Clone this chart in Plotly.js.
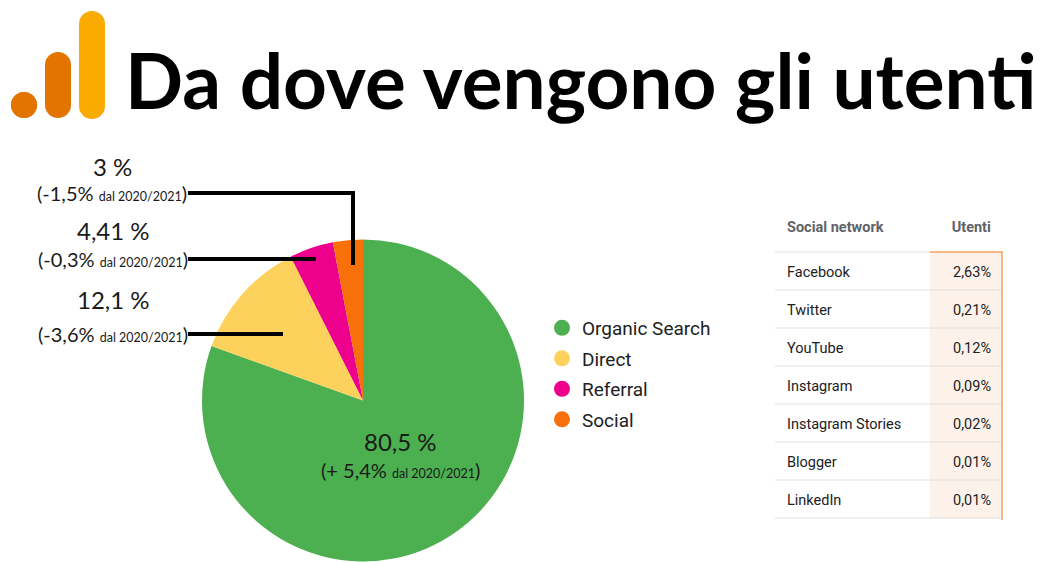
<!DOCTYPE html>
<html>
<head>
<meta charset="utf-8">
<script src="https://cdn.plot.ly/plotly-3.0.1.min.js"></script>
<style>html,body{margin:0;padding:0;background:#fff}#chart{width:1051px;height:562px}</style>
</head>
<body>
<div id="chart"></div>
<script>
// ---- data ----
const channels = ["Organic Search", "Direct", "Referral", "Social"];
const shares = [80.5, 12.1, 4.41, 3];
const shareLabels = ["80,5 %", "12,1 %", "4,41 %", "3 %"];
const deltaLabels = ["+ 5,4%", "-3,6%", "-0,3%", "-1,5%"];
const compareLabel = "dal 2020/2021";
const channelColors = ["#4caf50", "#fdd25c", "#ec008c", "#f7700a"];
const socialNetworks = ["Facebook", "Twitter", "YouTube", "Instagram", "Instagram Stories", "Blogger", "LinkedIn"];
const socialUsers = ["2,63%", "0,21%", "0,12%", "0,09%", "0,02%", "0,01%", "0,01%"];
const tableHeaders = ["Social network", "Utenti"];
const titleText = "Da dove vengono gli utenti";

// ---- helpers (pixel -> paper) ----
const W = 1051, H = 562;
const px = x => x / W;
const py = y => 1 - y / H;

const traces = [];
traces.push({
  type: "pie",
  values: shares,
  labels: channels,
  marker: {colors: channelColors, line: {width: 0}},
  sort: false,
  direction: "clockwise",
  rotation: 0,
  textinfo: "none",
  hoverinfo: "label+percent",
  showlegend: false,
  domain: {x: [px(202), px(524)], y: [py(562), py(239)]}
});
channels.forEach((c, i) => {
  traces.push({
    type: "scatter", mode: "markers", x: [null], y: [null],
    name: c, legendgroup: "g" + i,
    marker: {color: channelColors[i], size: 18, symbol: "circle"},
    hoverinfo: "skip"
  });
});
traces.push({
  type: "table",
  domain: {x: [px(779), px(1000)], y: [0, py(211)]},
  columnwidth: [151, 70],
  header: {
    values: tableHeaders.map(h => "<b>" + h + "</b>"),
    align: ["left", "right"],
    height: 47,
    fill: {color: "rgba(0,0,0,0)"},
    line: {color: "rgba(0,0,0,0)", width: 0},
    font: {family: "Roboto", size: 14.5, color: "#5f6368"}
  },
  cells: {
    values: [socialNetworks, socialUsers],
    align: ["left", "right"],
    height: 38,
    fill: {color: "rgba(0,0,0,0)"},
    line: {color: "rgba(0,0,0,0)", width: 0},
    font: {family: "Roboto", size: 14.5, color: "#202124"}
  }
});

// ---- decorations ----
const shapes = [];
// logo
const logo = [
  {x0: 79, x1: 105, y0: 11, y1: 119, c: "#f9ab00"},
  {x0: 45, x1: 71, y0: 52, y1: 118, c: "#e37400"},
  {x0: 11, x1: 37, y0: 92, y1: 118, c: "#e37400"}
];
logo.forEach(b => {
  const r = (b.x1 - b.x0) / 2;
  shapes.push({type: "circle", xref: "paper", yref: "paper", x0: px(b.x0), x1: px(b.x1), y0: py(b.y0), y1: py(b.y0 + 2 * r), fillcolor: b.c, line: {width: 0}});
  shapes.push({type: "circle", xref: "paper", yref: "paper", x0: px(b.x0), x1: px(b.x1), y0: py(b.y1 - 2 * r), y1: py(b.y1), fillcolor: b.c, line: {width: 0}});
  if (b.y1 - b.y0 > 2 * r) {
    shapes.push({type: "rect", xref: "paper", yref: "paper", x0: px(b.x0), x1: px(b.x1), y0: py(b.y0 + r), y1: py(b.y1 - r), fillcolor: b.c, line: {width: 0}});
  }
});
// leader lines
const lead = {color: "#000", width: 4};
shapes.push({type: "line", xref: "paper", yref: "paper", x0: px(188), x1: px(355), y0: py(193), y1: py(193), line: lead});
shapes.push({type: "line", xref: "paper", yref: "paper", x0: px(353), x1: px(353), y0: py(191), y1: py(265), line: lead});
shapes.push({type: "line", xref: "paper", yref: "paper", x0: px(188), x1: px(316), y0: py(259), y1: py(259), line: lead});
shapes.push({type: "line", xref: "paper", yref: "paper", x0: px(188), x1: px(283), y0: py(334), y1: py(334), line: lead});
// table background + rules
const tTop = 252, rowH = 38, nRows = socialNetworks.length;
shapes.push({type: "rect", layer: "below", xref: "paper", yref: "paper", x0: px(930), x1: px(1002), y0: py(tTop), y1: py(tTop + nRows * rowH), fillcolor: "#fdf2ea", line: {width: 0}});
shapes.push({type: "line", layer: "below", xref: "paper", yref: "paper", x0: px(775), x1: px(930), y0: py(tTop), y1: py(tTop), line: {color: "#e0e0e0", width: 1}});
for (let i = 1; i <= nRows; i++) {
  const y = tTop + i * rowH;
  shapes.push({type: "line", layer: "below", xref: "paper", yref: "paper", x0: px(775), x1: px(1002), y0: py(y), y1: py(y), line: {color: "#e0e0e0", width: 1}});
}
shapes.push({type: "line", layer: "below", xref: "paper", yref: "paper", x0: px(930), x1: px(1003), y0: py(tTop), y1: py(tTop), line: {color: "#f4a261", width: 1.5}});
shapes.push({type: "line", layer: "below", xref: "paper", yref: "paper", x0: px(1002), x1: px(1002), y0: py(tTop), y1: py(tTop + nRows * rowH + 2), line: {color: "#f4a261", width: 1.5}});

// ---- annotations ----
const annFamily = "Lato";
const small = t => "<span style='font-size:12.5px'>" + t + "</span>";
const annotations = [];
// pie labels: [index, cx, yValue, yDelta]
const labelPos = [
  [0, 400, 441, 470],
  [1, 113, 300, 334],
  [2, 113, 231, 259],
  [3, 112, 166, 193]
];
labelPos.forEach(([i, cx, yv, yd]) => {
  annotations.push({xref: "paper", yref: "paper", x: px(cx), y: py(yv), xanchor: "center", yanchor: "middle", showarrow: false, text: shareLabels[i], font: {family: annFamily, size: 24, color: "#1a1a1a"}});
  annotations.push({xref: "paper", yref: "paper", x: px(cx), y: py(yd), xanchor: "center", yanchor: "middle", showarrow: false, text: "(" + deltaLabels[i] + " " + small(compareLabel) + ")", font: {family: annFamily, size: 20, color: "#1a1a1a"}});
});

const layout = {
  width: W, height: H,
  margin: {l: 0, r: 0, t: 0, b: 0},
  paper_bgcolor: "white", plot_bgcolor: "white",
  title: {
    text: titleText,
    font: {family: "Lato", size: 76.5, weight: 700, color: "#000"},
    xref: "container", yref: "container",
    x: px(125), xanchor: "left", y: py(82), yanchor: "middle"
  },
  xaxis: {visible: false}, yaxis: {visible: false},
  showlegend: true,
  legend: {
    x: px(542), y: py(309), xanchor: "left", yanchor: "top",
    font: {family: "Roboto", size: 19, color: "#202124"},
    tracegroupgap: 2.8, bgcolor: "rgba(0,0,0,0)"
  },
  shapes: shapes,
  annotations: annotations
};
Plotly.newPlot("chart", traces, layout, {staticPlot: true});
</script>
</body>
</html>
